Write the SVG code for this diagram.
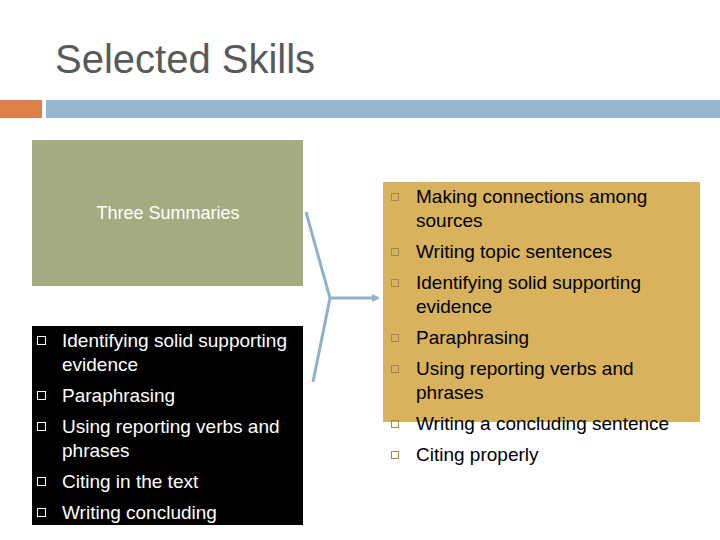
<svg xmlns="http://www.w3.org/2000/svg" width="720" height="540" viewBox="0 0 720 540">
<defs><marker id="ah" markerWidth="8" markerHeight="8" refX="6" refY="4" orient="auto" markerUnits="userSpaceOnUse"><path d="M0,0 L8,4 L0,8 z" fill="#8fb1cc"/></marker></defs>
<style>
text{font-family:"Liberation Sans",Arial,sans-serif;font-size:19px}
.w{fill:#fff}.k{fill:#000}
.bw{fill:none;stroke:#fff;stroke-width:1}
.bg{fill:none;stroke:#a08850;stroke-width:1}
</style>
<rect width="720" height="540" fill="#fff"/>
<text x="55" y="73" style="font-size:40px" fill="#595959">Selected Skills</text>
<rect x="0" y="100" width="42" height="18" fill="#dd8047"/>
<rect x="46" y="100" width="674" height="18" fill="#94b6d2"/>
<g id="summaries"><rect x="32" y="140" width="271" height="146" fill="#a5ab81"/>
<text x="168" y="219" class="w" text-anchor="middle" style="font-size:18px">Three Summaries</text></g>
<g id="left-list"><rect x="32" y="326" width="271" height="199" fill="#000"/>
<g class="w">
<text x="62" y="347">Identifying solid supporting</text><text x="62" y="371">evidence</text>
<text x="62" y="402">Paraphrasing</text>
<text x="62" y="433">Using reporting verbs and</text><text x="62" y="457">phrases</text>
<text x="62" y="488">Citing in the text</text>
<text x="62" y="519">Writing concluding</text></g>
<rect class="bw" x="37.500" y="336.500" width="8" height="8"/>
<rect class="bw" x="37.500" y="391.500" width="8" height="8"/>
<rect class="bw" x="37.500" y="422.500" width="8" height="8"/>
<rect class="bw" x="37.500" y="477.500" width="8" height="8"/>
<rect class="bw" x="37.500" y="508.500" width="8" height="8"/></g>
<g id="right-list"><rect x="383" y="182" width="317" height="240" fill="#d8b25c"/>
<g class="k">
<text x="416" y="203">Making connections among</text><text x="416" y="227">sources</text>
<text x="416" y="258">Writing topic sentences</text>
<text x="416" y="289">Identifying solid supporting</text><text x="416" y="313">evidence</text>
<text x="416" y="344">Paraphrasing</text>
<text x="416" y="375">Using reporting verbs and</text><text x="416" y="399">phrases</text>
<text x="416" y="430">Writing a concluding sentence</text>
<text x="416" y="461">Citing properly</text></g>
<rect class="bg" x="391.500" y="193.500" width="7" height="7"/>
<rect class="bg" x="391.500" y="248.500" width="7" height="7"/>
<rect class="bg" x="391.500" y="279.500" width="7" height="7"/>
<rect class="bg" x="391.500" y="334.500" width="7" height="7"/>
<rect class="bg" x="391.500" y="365.500" width="7" height="7"/>
<rect class="bg" x="391.500" y="420.500" width="7" height="7" stroke="#777"/>
<rect class="bg" x="391.500" y="451.500" width="7" height="7" stroke="#777"/></g>
<g id="connectors" fill="none" stroke="#8fb1cc" stroke-width="3">
<path d="M306,212 L330,298 L313,382"/>
<path d="M330,298 L378,298" marker-end="url(#ah)"/>
</g>
</svg>
